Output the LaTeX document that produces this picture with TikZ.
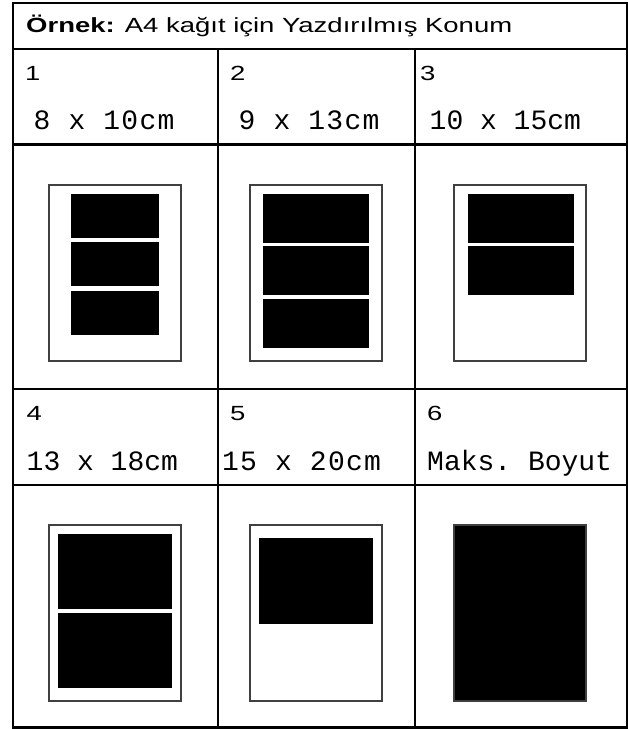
\documentclass[tikz,border=0pt]{standalone}
\usepackage{fontspec}
\setmainfont{Liberation Sans}[FakeStretch=1.34]
\setmonofont{Liberation Mono}
\usepackage{tikz}

\begin{document}
\begin{tikzpicture}[
    x=1pt, y=-1pt,
    grid/.style={line width=2.4pt},
    page/.style={draw=black!75, line width=1.2pt, fill=white},
    photo/.style={fill=black},
    numlabel/.style={anchor=base west, inner sep=0pt, font=\fontsize{20.5}{24}\selectfont},
    sizelabel/.style={anchor=base west, inner sep=0pt, font=\ttfamily\fontsize{28}{32}\selectfont},
    widelabel/.style={sizelabel, font=\ttfamily\fontsize{28}{32}\selectfont\addfontfeature{LetterSpace=4.5}},
]
    \useasboundingbox (0,0) rectangle (628,729);
    \draw[grid] (13,3) rectangle (626.8,727.5);
    \draw[grid] (13,49) -- (626.8,49);
    \draw[grid] (13,144.5) -- (626.8,144.5);
    \draw[grid] (13,389) -- (626.8,389);
    \draw[grid] (13,485) -- (626.8,485);
    \draw[grid] (218,49) -- (218,727.5);
    \draw[grid] (415,49) -- (415,727.5);

    \node[numlabel] (title) at (26,32) {\textbf{Örnek:} A4 kağıt için Yazdırılmış Konum};

    \node[numlabel] (n1) at (25,80) {1};
    \node[numlabel] (n2) at (230,80) {2};
    \node[numlabel] (n3) at (420,80) {3};
    \node[widelabel] (s1) at (33.5,129) {8 x 10cm};
    \node[widelabel] (s2) at (238.5,129) {9 x 13cm};
    \node[sizelabel] (s3) at (429.5,129) {10 x 15cm};

    \node[numlabel] (n4) at (26.5,420) {4};
    \node[numlabel] (n5) at (230,420) {5};
    \node[numlabel] (n6) at (427,420) {6};
    \node[sizelabel] (s4) at (26.5,470) {13 x 18cm};
    \node[widelabel] (s5) at (222,470) {15 x 20cm};
    \node[sizelabel] (s6) at (427,470) {Maks. Boyut};

    \draw[page] (49,185) rectangle (181,361);
    \fill[photo] (71,194) rectangle (159,238);
    \fill[photo] (71,242) rectangle (159,286);
    \fill[photo] (71,291) rectangle (159,335);

    \draw[page] (250,185) rectangle (382,361);
    \fill[photo] (263,194) rectangle (369,243);
    \fill[photo] (263,246) rectangle (369,295);
    \fill[photo] (263,299) rectangle (369,348);

    \draw[page] (454,185) rectangle (586,361);
    \fill[photo] (468,194) rectangle (574,243);
    \fill[photo] (468,246) rectangle (574,295);

    \draw[page] (49,525) rectangle (181,701);
    \fill[photo] (58,534) rectangle (172,609);
    \fill[photo] (58,613) rectangle (172,688);

    \draw[page] (250,525) rectangle (382,701);
    \fill[photo] (259,538) rectangle (373,624);

    \draw[page, fill=black] (454,525) rectangle (586,701);
\end{tikzpicture}
\end{document}
